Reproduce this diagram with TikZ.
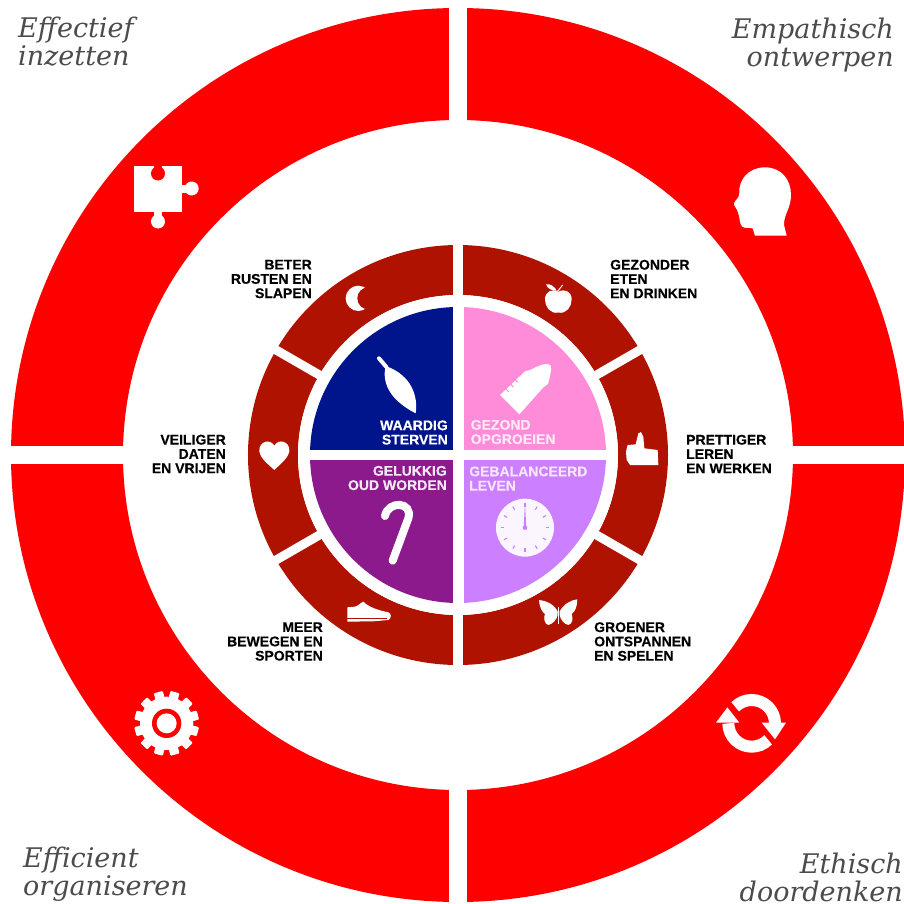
\documentclass[tikz,border=0pt]{standalone}
\usepackage{fontspec}
\setmainfont{Liberation Sans}
\newfontfamily\labfont[BoldFeatures={FakeBold=0.35}]{Liberation Sans}
\newfontfamily\titlefont{DejaVu Serif}
\definecolor{ringred}{HTML}{FF0000}
\definecolor{ringdark}{HTML}{B01200}
\definecolor{diskblue}{HTML}{00148C}
\definecolor{diskpink}{HTML}{FF8CD8}
\definecolor{disklilac}{HTML}{CC80FF}
\definecolor{diskpurple}{HTML}{8C1A8C}
\tikzset{
  icon/.style={x=.3333pt,y=-.3333pt},
  gap/.style={white,line width=#1},
  lab/.style={inner sep=0pt,font=\labfont\bfseries\fontsize{14}{14.3}\selectfont},
  labr/.style={lab,anchor=east,align=right},
  labl/.style={lab,anchor=west,align=left},
  title/.style={inner sep=0pt,text=black!70,font=\titlefont\itshape\fontsize{27}{28}\selectfont},
}
\begin{document}
\begin{tikzpicture}[x=1pt,y=1pt]
  \useasboundingbox (-458,-448) rectangle (446,455);
  \fill[white] (-458,-448) rectangle (446,455);
  \begin{scope}
    \clip (-458,-448) rectangle (446,455);
    \draw[ringred,line width=112pt] (0,0) circle[radius=391];
  \end{scope}
  \draw[gap=18pt] (0,-450) -- (0,460);
  \draw[gap=18pt] (-460,0) -- (450,0);
  % middle ring
  \fill[white] (0,0) circle[radius=225];
  \draw[ringdark,line width=50pt] (0,0) circle[radius=185];
  \draw[gap=10pt] (0,-215) -- (0,215);
  \draw[gap=9pt] (150:215) -- (-30:215);
  \draw[gap=9pt] (30:215) -- (210:215);
  \fill[white] (0,0) circle[radius=160];
  % disk
  \fill[diskblue] (0,0) -- (-148,0) arc[start angle=180,end angle=90,radius=148] -- cycle;
  \fill[diskpink] (0,0) -- (148,0) arc[start angle=0,end angle=90,radius=148] -- cycle;
  \fill[disklilac] (0,0) -- (148,0) arc[start angle=0,end angle=-90,radius=148] -- cycle;
  \fill[diskpurple] (0,0) -- (-148,0) arc[start angle=180,end angle=270,radius=148] -- cycle;
  \draw[gap=11pt] (0,-155) -- (0,155);
  \draw[gap=10pt] (-155,0) -- (155,0);
  % puzzle
  \begin{scope}[shift={(-300,266.5)}]
    \fill[white] (-24,-23) rectangle (24,23);
    \fill[white] (23,-4) rectangle (30,4);
    \fill[white] (33.7,0) circle[radius=7];
    \fill[white] (-4,-30) rectangle (4,-23);
    \fill[white] (0,-33) circle[radius=7];
    \fill[ringred] (0,15) circle[radius=7];
    \fill[ringred] (-4,16) rectangle (4,24);
  \end{scope}
  % head
  \begin{scope}[shift={(252,305)},icon]
    \fill[white] (230,257) -- (135,257) -- (128,235)
      .. controls (115,232) and (105,236) .. (97,230)
      .. controls (88,222) and (90,205) .. (85,190)
      .. controls (82,175) and (70,168) .. (72,160)
      .. controls (75,150) and (88,145) .. (88,130)
      .. controls (85,90) and (115,52) .. (165,52)
      .. controls (215,52) and (243,90) .. (243,135)
      .. controls (243,175) and (222,190) .. (222,225) -- cycle;
  \end{scope}
  % refresh
  \begin{scope}[shift={(242,-225)},icon]
    \draw[white,line width=12pt] (105.5,80.5) arc[start angle=225,end angle=360,radius=70];
    \draw[white,line width=12pt] (204.5,179.5) arc[start angle=45,end angle=180,radius=70];
    \fill[white] (185,128) -- (258,128) -- (225,178) -- cycle;
    \fill[white] (48,128) -- (118,128) -- (82,82) -- cycle;
  \end{scope}
  % gear
  \begin{scope}[shift={(-348,-215)},icon]
    \fill[white] (170,160) circle[radius=80];
    \foreach \a in {15,45,...,345}
      \fill[white,rounded corners=1pt,shift={(170,160)},rotate=\a] (75,-14) rectangle (97,14);
    \fill[ringred] (170,160) circle[radius=44];
    \fill[white] (170,160) circle[radius=30];
  \end{scope}
  % moon and leaf
  \begin{scope}[shift={(-218,215)},icon]
    \fill[white] (355,175) circle[radius=38];
    \fill[ringdark] (385,175) circle[radius=33];
    \draw[white,line width=4pt,line cap=round] (417,355) -- (440,382);
    \fill[white] (437,378) .. controls (425,430) and (450,480) .. (527,520)
      .. controls (535,470) and (515,405) .. (437,378) -- cycle;
  \end{scope}
  % apple and bottle
  \begin{scope}[shift={(-8,215)},icon]
    \fill[white] (325,155) .. controls (345,145) and (365,155) .. (365,178)
      .. controls (365,200) and (350,222) .. (325,218)
      .. controls (300,222) and (285,200) .. (285,178)
      .. controls (285,155) and (305,145) .. (325,155) -- cycle;
    \fill[white] (288,133) .. controls (300,130) and (315,140) .. (320,152) .. controls (305,153) and (292,145) .. (288,133) -- cycle;
    \draw[white,line width=1pt] (322,155) -- (338,135);
    \fill[white] (150,465) -- (225,394) -- (240,390) -- (265,378)
      .. controls (280,372) and (295,370) .. (302,376)
      .. controls (306,390) and (300,410) .. (294,432)
      -- (280,442) -- (208,523) -- cycle;
    \draw[diskpink,line width=1pt] (168,447) -- (177,456) (182,433) -- (190,441) (196,420) -- (203,427);
  \end{scope}
  % thumb
  \begin{scope}[shift={(157,35)},icon]
    \fill[white] (38,75) -- (62,73) -- (70,40) -- (78,36) -- (85,50) -- (88,85) -- (128,90) -- (130,135) -- (45,135) -- (35,120) -- (33,95) -- cycle;
  \end{scope}
  % heart
  \begin{scope}[shift={(-213,30)},icon]
    \fill[white] (88,62) .. controls (100,40) and (135,48) .. (133,78)
      .. controls (130,100) and (105,118) .. (88,135)
      .. controls (70,118) and (45,100) .. (43,78)
      .. controls (42,48) and (75,40) .. (88,62) -- cycle;
  \end{scope}
  % clock, butterfly
  \begin{scope}[shift={(-8,5)},icon]
    \fill[white!92!disklilac] (225,233) circle[radius=87];
    \foreach \a in {0,30,...,330}
      \draw[disklilac,line width=1.1pt,shift={(225,233)},rotate=\a] (62,0) -- (73,0);
    \fill[disklilac] (221,233) -- (225,160) -- (229,233) -- cycle;
    \fill[disklilac] (225,233) circle[radius=7];
    \fill[white] (323,484) .. controls (310,462) and (290,452) .. (267,450)
      .. controls (268,470) and (275,485) .. (285,492)
      .. controls (280,505) and (283,522) .. (295,525)
      .. controls (308,522) and (320,510) .. (323,495) -- cycle;
    \fill[white] (329,484) .. controls (342,462) and (362,450) .. (382,448)
      .. controls (382,470) and (375,485) .. (365,492)
      .. controls (370,505) and (368,522) .. (355,525)
      .. controls (342,522) and (332,510) .. (329,495) -- cycle;
    \draw[white,line width=1pt] (326,470) -- (326,522);
  \end{scope}
  % shoe and cane
  \begin{scope}[shift={(-218,5)},icon]
    \fill[white] (322,515) -- (322,472) -- (345,470)
      .. controls (355,468) and (362,458) .. (370,455)
      .. controls (385,470) and (410,480) .. (445,487)
      .. controls (455,490) and (455,505) .. (445,510) -- (400,514) -- cycle;
    \draw[ringdark,line width=.5pt] (322,505) -- (440,505);
    \draw[white,line width=8pt,line cap=round] (458,332) -- (505,205)
      .. controls (520,155) and (445,150) .. (435,198);
  \end{scope}
  % labels
  \node[labr] (rusten) at (-146,176) {BETER\\RUSTEN EN\\SLAPEN};
  \node[labl] (eten) at (152,176) {GEZONDER\\ETEN\\EN DRINKEN};
  \node[labl] (leren) at (228,1) {PRETTIGER\\LEREN\\EN WERKEN};
  \node[labr] (daten) at (-232,1) {VEILIGER\\DATEN\\EN VRIJEN};
  \node[labr] (sporten) at (-135,-186.5) {MEER\\BEWEGEN EN\\SPORTEN};
  \node[labl] (spelen) at (136,-186.5) {GROENER\\ONTSPANNEN\\EN SPELEN};
  \node[labr,text=white] (sterven) at (-10,22.5) {WAARDIG\\STERVEN};
  \node[labl,text=white!80!diskpink] (opgroeien) at (12.5,23) {GEZOND\\OPGROEIEN};
  \node[labl,text=white!80!disklilac] (leven) at (11,-23.5) {GEBALANCEERD\\LEVEN};
  \node[labr,text=white!90!diskpurple] (oudworden) at (-11,-23) {GELUKKIG\\OUD WORDEN};
  % titles
  \node[title,anchor=north west,align=left] (inzetten) at (-440,438) {Effectief\\inzetten};
  \node[title,anchor=north east,align=right] (ontwerpen) at (436,437) {Empathisch\\ontwerpen};
  \node[title,anchor=south west,align=left] (organiseren) at (-435,-447) {Efficient\\organiseren};
  \node[title,anchor=south east,align=right] (doordenken) at (445,-447) {Ethisch\\doordenken};
\end{tikzpicture}
\end{document}
